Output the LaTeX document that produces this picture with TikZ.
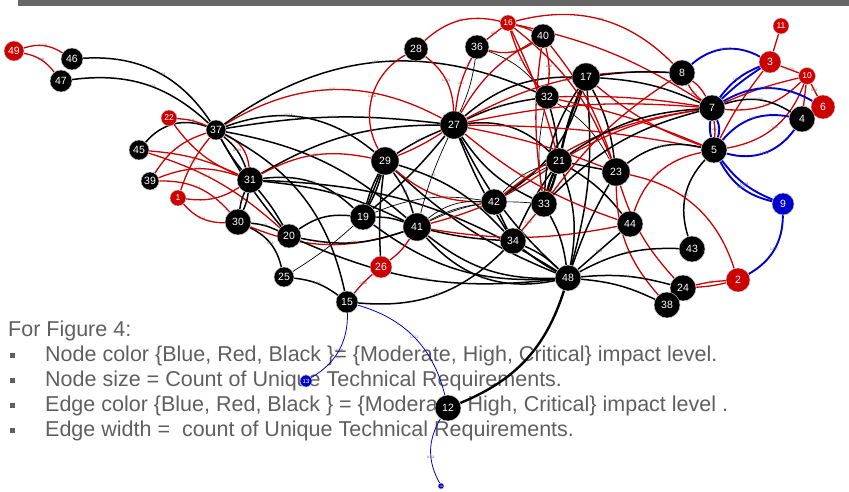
\documentclass[tikz,border=0pt]{standalone}
\usepackage{fontspec}
\setmainfont{Liberation Sans}
\definecolor{myred}{RGB}{204,0,0}
\definecolor{myblue}{RGB}{0,0,204}
\definecolor{txtgray}{RGB}{95,95,95}
\definecolor{bargray}{RGB}{102,102,102}
\pgfdeclarelayer{bg}
\pgfdeclarelayer{edges}
\pgfsetlayers{bg,edges,main}
\begin{document}
\begin{tikzpicture}[x=1pt,y=-1pt,
  nd/.style={circle,draw=gray!45,line width=0.5pt,text=white,inner sep=0pt,font=\fontsize{10.5}{11}\selectfont},
  nbk/.style={nd,fill=black},
  nrd/.style={nd,fill=myred},
  nbl/.style={nd,fill=myblue},
  small/.style={font=\fontsize{8.5}{9}\selectfont},
  ebk/.style={draw=black,line width=1.5pt},
  ebkT/.style={draw=black,line width=2.4pt},
  ebkt/.style={draw=black,line width=0.7pt},
  erd/.style={draw=myred,line width=1.3pt},
  ebl/.style={draw=myblue,line width=1.9pt},
  eblt/.style={draw=myblue,line width=0.8pt},
  lbl/.style={font=\fontsize{3.5}{4}\selectfont,text=black!60,inner sep=0pt},
  legend/.style={anchor=base west,inner sep=0pt,text=txtgray,font=\fontsize{21.5}{25}\selectfont},
  bullet/.style={fill=txtgray,draw=none,minimum size=5pt,inner sep=0pt}
]
\useasboundingbox (0,0) rectangle (849,492);

\begin{pgfonlayer}{bg}
\fill[bargray] (18,0) rectangle (849,6);
\node[legend] (t0) at (8,336) {For Figure 4:};
\node[bullet] (b1) at (12.5,355) {};
\node[bullet] (b2) at (12.5,380) {};
\node[bullet] (b3) at (12.5,405) {};
\node[bullet] (b4) at (12.5,430) {};
\node[legend] (t1) at (45,361.5) {Node color \{Blue, Red, Black \}= \{Moderate, High, Critical\} impact level.};
\node[legend] (t2) at (45,386.5) {Node size = Count of Unique Technical Requirements.};
\node[legend] (t3) at (45,411.5) {Edge color \{Blue, Red, Black \} = \{Moderate, High, Critical\} impact level .};
\node[legend] (t4) at (45,436.5) {Edge width = \ count of Unique Technical Requirements.};
\end{pgfonlayer}

% nodes
\node[nrd,minimum size=20pt] (n49) at (14,51) {49};
\node[nbk,minimum size=22pt] (n46) at (72,59) {46};
\node[nbk,minimum size=22pt] (n47) at (61,81) {47};
\node[nrd,small,minimum size=16pt] (n22) at (169,118) {22};
\node[nbk,minimum size=20pt] (n37) at (216,130) {37};
\node[nbk,minimum size=20pt] (n45) at (139,150) {45};
\node[nbk,minimum size=18pt] (n39) at (150,181) {39};
\node[nrd,small,minimum size=16pt] (n1) at (178,198) {1};
\node[nbk,minimum size=26pt] (n31) at (250,180) {31};
\node[nbk,minimum size=26pt] (n30) at (238,222) {30};
\node[nbk,minimum size=24pt] (n20) at (289,236) {20};
\node[nbk,minimum size=20pt] (n25) at (284,277) {25};
\node[nbk,minimum size=26pt] (n19) at (363,217) {19};
\node[nbk,minimum size=28pt] (n29) at (385,161) {29};
\node[nbk,minimum size=24pt] (n28) at (416,49) {28};
\node[nbk,minimum size=24pt] (n36) at (477,47) {36};
\node[nrd,small,minimum size=16pt] (n16) at (508,23) {16};
\node[nbk,minimum size=24pt] (n40) at (543,36) {40};
\node[nbk,minimum size=28pt] (n27) at (454,125) {27};
\node[nbk,minimum size=24pt] (n32) at (547,97) {32};
\node[nbk,minimum size=28pt] (n17) at (586,77) {17};
\node[nbk,minimum size=26pt] (n21) at (559,161) {21};
\node[nbk,minimum size=28pt] (n23) at (616,172) {23};
\node[nbk,minimum size=26pt] (n42) at (494,202) {42};
\node[nbk,minimum size=26pt] (n33) at (544,204) {33};
\node[nbk,minimum size=28pt] (n41) at (417,227) {41};
\node[nbk,minimum size=26pt] (n34) at (513,241) {34};
\node[nrd,minimum size=22pt] (n26) at (381,267) {26};
\node[nbk,minimum size=22pt] (n15) at (347,302) {15};
\node[nbk,minimum size=26pt] (n48) at (568,278) {48};
\node[nbk,minimum size=26pt] (n44) at (630,224) {44};
\node[nbk,minimum size=26pt] (n43) at (692,249) {43};
\node[nbk,minimum size=26pt] (n24) at (683,288) {24};
\node[nbk,minimum size=26pt] (n38) at (667,305) {38};
\node[nrd,minimum size=24pt] (n2) at (738,280) {2};
\node[nbl,minimum size=22pt] (n9) at (783,204) {9};
\node[nbk,minimum size=26pt] (n8) at (682,73) {8};
\node[nrd,minimum size=22pt] (n3) at (770,62) {3};
\node[nrd,small,minimum size=16pt] (n11) at (781,26) {11};
\node[nrd,small,minimum size=17pt] (n10) at (807,76) {10};
\node[nrd,minimum size=24pt] (n6) at (823,107) {6};
\node[nbk,minimum size=26pt] (n4) at (802,119) {4};
\node[nbk,minimum size=26pt] (n7) at (712,108) {7};
\node[nbk,minimum size=26pt] (n5) at (714,150) {5};
\node[nbl,minimum size=12pt,font=\fontsize{6}{6}\selectfont] (n13) at (306,381) {13};
\node[nbk,minimum size=26pt] (n12) at (448,408) {12};
\node[nbl,minimum size=6pt,font=\fontsize{3}{3}\selectfont] (n14) at (441,486) {14};

\begin{pgfonlayer}{edges}
% top-left
\draw[erd] (n49) to[bend left=25] node[lbl]{U16} (n46);
\draw[erd] (n49) to[bend left=20] node[lbl]{U18} (n47);
\draw[ebk] (n46) to[bend left=30] node[lbl,pos=0.55]{U14} (n37);
\draw[ebk] (n47) to[bend left=25] node[lbl,pos=0.55]{U15} (n37);
\draw[ebk] (n45) to[bend left=35] node[lbl]{U5} (n37);
\draw[erd] (n22) to[bend left=10] node[lbl]{U6} (n37);
\draw[erd] (n22) to[bend right=15] (n31);
\draw[erd] (n45) to[bend left=10] node[lbl]{U76} (n31);
\draw[erd] (n45) to[bend left=12] node[lbl,pos=0.4]{U14} (n20);
\draw[erd] (n39) to[bend left=20] node[lbl]{U9} (n37);
\draw[erd] (n39) to[bend left=20] node[lbl]{U20} (n31);
\draw[erd] (n39) to[bend left=25] node[lbl]{U2} (n30);
\draw[erd] (n1) to[bend right=20] node[lbl]{U71} (n31);
\draw[erd] (n1) to[bend right=25] node[lbl]{U74} (n30);
\draw[erd] (n1) to[bend left=10] node[lbl]{U77} (n37);
\draw[ebk] (n37) to[bend right=5] (n31);
\draw[ebk] (n37) to[bend left=15] node[lbl]{U108} (n31);
\draw[erd] (n37) to[bend left=30] (n31);
\draw[ebk] (n37) to[bend left=8] node[lbl]{U116} (n27);
\draw[erd] (n37) to[bend left=30] node[lbl]{U10} (n27);
\draw[ebk] (n37) to[bend left=30] node[lbl]{U13} (n32);
\draw[ebk] (n37) to[bend left=30] node[lbl,pos=0.4]{U115} (n29);
\draw[ebk] (n37) to[bend left=25] (n15);
\draw[ebk] (n37) to[bend right=5] (n20);
\draw[ebk] (n37) to[bend left=15] (n41);
% left-centre
\draw[ebk] (n31) to[bend left=15] node[lbl]{U17} (n27);
\draw[erd] (n31) to[bend left=20] node[lbl]{U58} (n29);
\draw[ebk] (n31) to[bend left=8] (n30);
\draw[ebk] (n31) to[bend right=8] node[lbl]{U9} (n30);
\draw[ebk] (n31) to[bend left=5] (n20);
\draw[ebk] (n31) to[bend left=25] node[lbl]{U37} (n19);
\draw[ebk] (n31) to[bend left=10] node[lbl]{U38} (n41);
\draw[ebk] (n31) to[bend left=15] (n48);
\draw[ebk] (n30) to[bend left=10] node[lbl]{U3} (n20);
\draw[ebk] (n30) to[bend left=25] node[lbl]{U35} (n25);
\draw[erd] (n30) to[bend right=20] node[lbl]{U4} (n41);
\draw[ebk] (n20) to[bend left=20] (n19);
\draw[ebk] (n20) to[bend right=15] node[lbl]{U39} (n41);
\draw[ebk] (n20) to[bend right=15] node[lbl]{U36} (n48);
\draw[ebkt] (n25) to[bend right=5] (n19);
\draw[ebk] (n25) to[bend left=15] node[lbl]{U33} (n15);
\draw[ebk] (n19) to[bend left=6] (n29);
\draw[ebk] (n19) to (n29);
\draw[ebk] (n19) to[bend right=6] (n29);
\draw[ebk] (n19) to[bend left=10] (n41);
\draw[ebk] (n19) to[bend right=20] (n48);
\draw[ebkt] (n19) to[bend left=15] (n42);
\draw[ebk] (n19) to[bend right=5] (n27);
\draw[ebk] (n29) to[bend left=10] node[lbl]{U1} (n41);
\draw[ebk] (n29) to[bend left=15] (n34);
\draw[ebk] (n29) to[bend right=10] (n48);
\draw[erd] (n29) to[bend right=20] node[lbl]{U11} (n42);
\draw[ebk] (n29) to[bend left=5] node[lbl]{U9} (n27);
\draw[erd] (n29) to[bend right=5] (n27);
\draw[ebk] (n26) to[bend left=5] (n29);
\draw[erd] (n26) to[bend right=10] (n41);
\draw[erd] (n15) to[bend left=5] node[lbl]{U109} (n26);
\draw[ebk] (n15) to[bend right=25] node[lbl]{U23} (n34);
\draw[eblt] (n15) to[bend left=30] node[lbl]{U108} (n13);
\draw[eblt] (n15) to[bend left=30] node[lbl]{U112} (n12);
\draw[eblt] (n12) to[bend right=30] node[lbl,pos=0.6]{U111} (n14);
\draw[ebkT] (n48) to[bend left=25] (n12);
% centre
\draw[ebkt] (n41) to[bend left=10] (n42);
\draw[ebkt] (n41) to[bend left=20] (n42);
\draw[ebkt] (n41) to[bend left=15] node[lbl]{U14} (n33);
\draw[erd] (n41) to[bend right=10] node[lbl]{U14} (n21);
\draw[ebk] (n41) to[bend right=20] (n48);
\draw[ebk] (n41) to[bend right=30] node[lbl]{U37} (n48);
\draw[ebk] (n41) to[bend right=5] (n34);
\draw[ebkt] (n41) to[bend left=5] node[lbl]{U15} (n27);
\draw[erd] (n41) to[bend right=10] node[lbl]{U13} (n44);
\draw[ebk] (n42) to (n34);
\draw[ebkt] (n42) to[bend left=15] node[lbl]{U66} (n21);
\draw[ebkt] (n42) to[bend left=5] node[lbl]{U67} (n21);
\draw[ebk] (n42) to[bend right=20] (n17);
\draw[erd] (n42) to[bend left=15] (n7);
\draw[erd] (n33) to node[lbl]{U24} (n34);
\draw[ebk] (n33) to[bend left=10] (n48);
\draw[ebk] (n34) to[bend left=10] (n48);
\draw[ebk] (n34) to[bend right=5] (n48);
\draw[ebk] (n21) to[bend right=5] (n34);
\draw[ebkT] (n21) to[bend right=5] (n33);
\draw[ebkT] (n21) to[bend left=5] (n33);
\draw[ebk] (n21) to[bend left=15] (n48);
\draw[ebk] (n21) to (n23);
\draw[ebk] (n21) to[bend left=10] (n44);
\draw[ebkT] (n17) to[bend right=5] (n21);
\draw[ebk] (n17) to[bend right=15] (n33);
\draw[ebk] (n17) to[bend left=10] (n48);
\draw[ebk] (n17) to[bend left=10] (n23);
\draw[ebk] (n32) to[bend left=5] node[lbl]{U42} (n21);
\draw[ebkt] (n32) to[bend left=15] (n23);
\draw[ebkt] (n32) to[bend right=10] (n33);
\draw[ebk] (n27) to[bend left=20] (n17);
\draw[ebk] (n27) to[bend left=8] node[lbl]{U4} (n32);
\draw[ebk] (n27) to[bend left=25] node[lbl]{U1} (n21);
\draw[ebk] (n27) to[bend right=15] (n33);
\draw[ebk] (n27) to[bend right=5] (n34);
\draw[ebk] (n27) to[bend right=10] (n48);
\draw[erd] (n27) to[bend left=8] (n7);
\draw[erd] (n27) to[bend left=5] (n5);
\draw[erd] (n27) to[bend left=15] node[lbl]{U105} (n8);
\draw[erd] (n27) to[bend left=5] (n23);
\draw[erd] (n27) to[bend right=10] (n44);
\draw[erd] (n36) to[bend right=10] node[lbl]{U51} (n27);
\draw[ebkt] (n36) to[bend left=8] (n27);
\draw[ebkt] (n36) to[bend left=15] (n32);
\draw[erd] (n36) to node[lbl]{U59} (n16);
\draw[erd] (n36) to[bend right=25] node[lbl]{U84} (n40);
\draw[erd] (n28) to[bend left=25] node[lbl]{U101} (n27);
\draw[erd] (n28) to[bend right=45] node[lbl]{U100} (n29);
\draw[erd] (n28) to[bend left=28] node[lbl]{U95} (n16);
\draw[erd] (n16) to[bend left=5] node[lbl]{U34} (n40);
\draw[erd] (n16) to[bend right=10] node[lbl]{U55} (n32);
\draw[erd] (n16) to[bend left=5] (n21);
\draw[erd] (n16) to[bend left=30] node[lbl]{U30} (n8);
\draw[erd] (n16) to[bend left=15] (n23);
\draw[erd] (n40) to[bend left=10] node[lbl]{U56} (n32);
\draw[erd] (n40) to[bend right=15] (n27);
\draw[erd] (n40) to[bend left=10] (n23);
\draw[erd] (n40) to[bend right=8] (n33);
\draw[erd] (n32) to[bend left=5] (n5);
\draw[erd] (n32) to[bend left=5] (n7);
\draw[erd] (n17) to[bend right=10] (n5);
\draw[erd] (n21) to[bend left=10] (n7);
\draw[erd] (n16) to[bend left=10] (n7);
\draw[erd] (n33) to[bend left=10] (n8);
% right
\draw[ebk] (n21) to[bend left=15] (n7);
\draw[ebk] (n33) to[bend left=15] (n7);
\draw[ebk] (n17) to[bend left=10] (n7);
\draw[ebk] (n17) to[bend left=5] (n8);
\draw[erd] (n8) to[bend left=12] (n7);
\draw[erd] (n8) to[bend right=12] node[lbl]{U97} (n7);
\draw[ebl] (n8) to[bend left=35] node[lbl]{U120} (n3);
\draw[erd] (n3) to (n11);
\draw[erd] (n3) to node[lbl]{U103} (n10);
\draw[ebl] (n3) to[bend right=15] node[lbl]{U113} (n7);
\draw[ebl] (n3) to[bend right=5] (n7);
\draw[erd] (n3) to[bend right=5] node[lbl,pos=0.3]{U128} (n5);
\draw[erd] (n10) to[bend right=5] node[lbl]{U111} (n7);
\draw[erd] (n7) to[bend right=25] node[lbl]{U45} (n10);
\draw[erd] (n10) to node[lbl]{U10} (n6);
\draw[erd] (n10) to (n4);
\draw[erd] (n5) to[bend right=30] node[lbl]{U46} (n10);
\draw[ebl] (n7) to[bend left=30] node[lbl]{U112} (n6);
\draw[ebk] (n7) to[bend left=25] node[lbl]{U103} (n4);
\draw[ebl] (n5) to[bend left=30] node[lbl]{U48} (n4);
\draw[ebl] (n5) to[bend right=35] node[lbl]{U102} (n4);
\draw[ebl] (n7) to[bend left=20] (n5);
\draw[ebl] (n7) to[bend right=10] (n5);
\draw[erd] (n7) to[bend left=6] node[lbl]{U42} (n5);
\draw[ebl] (n5) to[bend right=15] node[lbl]{U104} (n9);
\draw[ebl] (n5) to[bend right=24] node[lbl]{U105} (n9);
\draw[ebl] (n9) to[bend left=30] node[lbl]{U127} (n2);
\draw[ebk] (n5) to[bend right=30] node[lbl]{U65} (n43);
\draw[ebk] (n5) to[bend right=25] node[lbl]{U119} (n23);
\draw[erd] (n5) to[bend right=30] node[lbl]{U8} (n44);
\draw[erd] (n23) to[bend left=30] (n2);
\draw[erd] (n23) to[bend right=12] (n24);
\draw[erd] (n23) to[bend right=20] (n38);
\draw[ebk] (n23) to[bend right=5] (n48);
\draw[ebk] (n48) to node[lbl]{U58} (n44);
\draw[ebk] (n48) to[bend left=15] node[lbl]{U10} (n43);
\draw[ebk] (n48) to[bend left=10] node[lbl]{U14} (n24);
\draw[ebk] (n48) to[bend left=10] (n38);
\draw[erd] (n24) to[bend left=5] node[lbl]{U52} (n2);
\draw[erd] (n24) to[bend right=5] (n2);
\end{pgfonlayer}
\end{tikzpicture}
\end{document}
